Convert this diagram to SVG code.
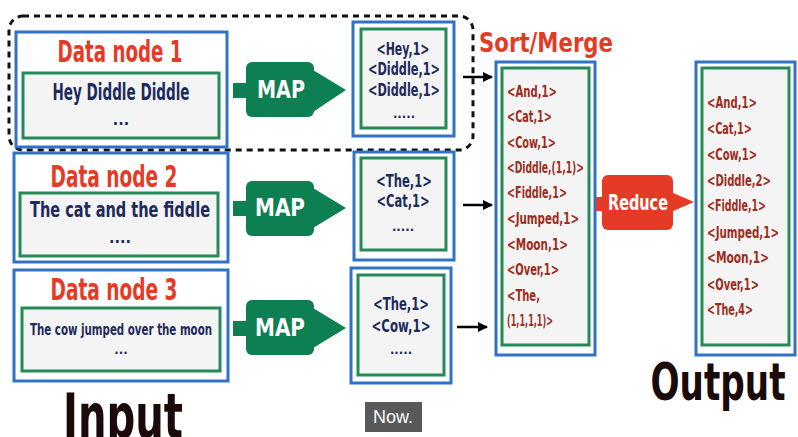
<svg xmlns="http://www.w3.org/2000/svg" width="798" height="437" viewBox="0 0 798 437">
<style>
.outer{fill:#ffffff;stroke:#2f72c6;stroke-width:3}
.inner{fill:#f4f4f4;stroke:#238a58;stroke-width:3}
.t{font-family:"DejaVu Sans Condensed","DejaVu Sans",sans-serif;font-weight:bold}
.title{fill:#e53b26;font-size:30px}
.navy{fill:#1c2a5c}
.kv{fill:#9c2c1c;font-size:16px}
.mo{font-size:18px}
.map{fill:#0e7f52}
.white{fill:#ffffff}
.big{fill:#1a0a0a}
.conn{stroke:#000;stroke-width:2.5;fill:none}
</style>
<defs>
<marker id="ah" viewBox="0 0 10 10" refX="9" refY="5" markerWidth="4" markerHeight="4" orient="auto">
<path d="M0,0 L10,5 L0,10 z" fill="#000"/>
</marker>
</defs>
<rect width="798" height="437" fill="#ffffff"/>

<g id="group1">
<rect x="9" y="16" width="464" height="134" rx="14" fill="none" stroke="#111" stroke-width="3" stroke-dasharray="6,5"/>
</g>

<g id="datanode1">
<rect class="outer" x="16" y="32" width="211" height="115"/>
<rect class="inner" x="23" y="73" width="196" height="65"/>
<text class="t title" transform="translate(120,62) scale(0.62,1)" text-anchor="middle" textLength="201.6" lengthAdjust="spacingAndGlyphs">Data node 1</text>
<text class="t navy" transform="translate(121,100) scale(0.7,1)" font-size="23" text-anchor="middle" textLength="195.7" lengthAdjust="spacingAndGlyphs">Hey Diddle Diddle</text>
<text class="t navy" x="121" y="125" font-size="16" text-anchor="middle">...</text>
</g>

<g id="datanode2">
<rect class="outer" x="14" y="153" width="214" height="109"/>
<rect class="inner" x="20" y="193" width="198" height="63"/>
<text class="t title" transform="translate(114,187) scale(0.62,1)" text-anchor="middle" textLength="204.8" lengthAdjust="spacingAndGlyphs">Data node 2</text>
<text class="t navy" transform="translate(120,217) scale(0.75,1)" font-size="21" text-anchor="middle" textLength="240" lengthAdjust="spacingAndGlyphs">The cat and the fiddle</text>
<text class="t navy" x="120" y="243" font-size="16" text-anchor="middle">....</text>
</g>

<g id="datanode3">
<rect class="outer" x="14" y="270" width="214" height="111"/>
<rect class="inner" x="22" y="308" width="198" height="63"/>
<text class="t title" transform="translate(114,300) scale(0.62,1)" text-anchor="middle" textLength="204.8" lengthAdjust="spacingAndGlyphs">Data node 3</text>
<text class="t navy" transform="translate(121,335) scale(0.7,1)" font-size="16" text-anchor="middle" textLength="260" lengthAdjust="spacingAndGlyphs">The cow jumped over the moon</text>
<text class="t navy" x="121" y="354" font-size="13" text-anchor="middle">...</text>
</g>

<g id="map1">
<rect class="map" x="233" y="83" width="16" height="15"/>
<rect class="map" x="246" y="62" width="68" height="55" rx="6"/>
<path class="map" d="M313,70 L346,90 L313,112 z"/>
<text class="t white" transform="translate(281,98) scale(0.8,1)" font-size="25" text-anchor="middle" textLength="60" lengthAdjust="spacingAndGlyphs">MAP</text>
</g>
<g id="map2">
<rect class="map" x="233" y="201" width="16" height="15"/>
<rect class="map" x="246" y="181" width="68" height="55" rx="6"/>
<path class="map" d="M313,188 L346,208 L313,228 z"/>
<text class="t white" transform="translate(280,216) scale(0.8,1)" font-size="25" text-anchor="middle" textLength="62.5" lengthAdjust="spacingAndGlyphs">MAP</text>
</g>
<g id="map3">
<rect class="map" x="233" y="321" width="16" height="15"/>
<rect class="map" x="246" y="300" width="68" height="55" rx="6"/>
<path class="map" d="M313,308 L346,328 L313,348 z"/>
<text class="t white" transform="translate(280,336) scale(0.8,1)" font-size="25" text-anchor="middle" textLength="62.5" lengthAdjust="spacingAndGlyphs">MAP</text>
</g>

<g id="mapout1">
<rect class="outer" x="353" y="22" width="101" height="114"/>
<rect class="inner" x="361" y="29" width="85" height="99"/>
<text class="t navy mo" transform="translate(403,55) scale(0.62,1)" text-anchor="middle" textLength="85.5" lengthAdjust="spacingAndGlyphs">&lt;Hey,1&gt;</text>
<text class="t navy mo" transform="translate(404,75) scale(0.62,1)" text-anchor="middle" textLength="116.1" lengthAdjust="spacingAndGlyphs">&lt;Diddle,1&gt;</text>
<text class="t navy mo" transform="translate(404,96) scale(0.62,1)" text-anchor="middle" textLength="116.1" lengthAdjust="spacingAndGlyphs">&lt;Diddle,1&gt;</text>
<text class="t navy" x="404" y="118" font-size="13" text-anchor="middle">.....</text>
</g>
<g id="mapout2">
<rect class="outer" x="354" y="152" width="100" height="108"/>
<rect class="inner" x="361" y="158" width="85" height="92"/>
<text class="t navy mo" transform="translate(404,187) scale(0.62,1)" text-anchor="middle" textLength="90.3" lengthAdjust="spacingAndGlyphs">&lt;The,1&gt;</text>
<text class="t navy mo" transform="translate(403,207) scale(0.62,1)" text-anchor="middle" textLength="85.5" lengthAdjust="spacingAndGlyphs">&lt;Cat,1&gt;</text>
<text class="t navy" x="403" y="231" font-size="13" text-anchor="middle">.....</text>
</g>
<g id="mapout3">
<rect class="outer" x="351" y="268" width="100" height="115"/>
<rect class="inner" x="358" y="275" width="86" height="100"/>
<text class="t navy mo" transform="translate(401,310) scale(0.62,1)" text-anchor="middle" textLength="90.3" lengthAdjust="spacingAndGlyphs">&lt;The,1&gt;</text>
<text class="t navy mo" transform="translate(401,332) scale(0.62,1)" text-anchor="middle" textLength="95.2" lengthAdjust="spacingAndGlyphs">&lt;Cow,1&gt;</text>
<text class="t navy" x="401" y="354" font-size="13" text-anchor="middle">.....</text>
</g>

<g id="connectors">
<line class="conn" x1="463" y1="77" x2="492" y2="77" marker-end="url(#ah)"/>
<line class="conn" x1="463" y1="205" x2="492" y2="205" marker-end="url(#ah)"/>
<line class="conn" x1="457" y1="327" x2="487" y2="327" marker-end="url(#ah)"/>
</g>

<g id="sortmerge">
<text class="t" transform="translate(546,52) scale(0.84,1)" font-size="27" fill="#e53b26" text-anchor="middle" textLength="159.5" lengthAdjust="spacingAndGlyphs">Sort/Merge</text>
<rect class="outer" x="496" y="62" width="99" height="293"/>
<rect class="inner" x="502" y="68" width="87" height="277"/>
<g transform="translate(507,0) scale(0.7,1)">
<text class="t kv" x="0" y="97" textLength="71.4" lengthAdjust="spacingAndGlyphs">&lt;And,1&gt;</text>
<text class="t kv" x="0" y="122" textLength="64.3" lengthAdjust="spacingAndGlyphs">&lt;Cat,1&gt;</text>
<text class="t kv" x="0" y="148" textLength="70" lengthAdjust="spacingAndGlyphs">&lt;Cow,1&gt;</text>
<text class="t kv" x="0" y="173" textLength="110" lengthAdjust="spacingAndGlyphs">&lt;Diddle,(1,1)&gt;</text>
<text class="t kv" x="0" y="198" textLength="85.7" lengthAdjust="spacingAndGlyphs">&lt;Fiddle,1&gt;</text>
<text class="t kv" x="0" y="224" textLength="102.9" lengthAdjust="spacingAndGlyphs">&lt;Jumped,1&gt;</text>
<text class="t kv" x="0" y="250" textLength="87.1" lengthAdjust="spacingAndGlyphs">&lt;Moon,1&gt;</text>
<text class="t kv" x="0" y="275" textLength="74.3" lengthAdjust="spacingAndGlyphs">&lt;Over,1&gt;</text>
<text class="t kv" x="0" y="301" textLength="47.1" lengthAdjust="spacingAndGlyphs">&lt;The,</text>
<text class="t kv" x="0" y="326" textLength="65.7" lengthAdjust="spacingAndGlyphs">(1,1,1,1)&gt;</text>
</g>
</g>

<g id="reduce">
<rect x="596" y="197" width="8" height="14" fill="#e53b26"/>
<rect x="602" y="175" width="71" height="55" rx="6" fill="#e53b26"/>
<path d="M671,192 L694,202 L671,212 z" fill="#e53b26"/>
<text class="t white" transform="translate(638,210) scale(0.7,1)" font-size="21" text-anchor="middle" textLength="85.7" lengthAdjust="spacingAndGlyphs">Reduce</text>
</g>

<g id="output">
<rect class="outer" x="696" y="62" width="99" height="293"/>
<rect class="inner" x="702" y="68" width="87" height="277"/>
<g transform="translate(707,0) scale(0.7,1)">
<text class="t kv" x="0" y="108" textLength="71.4" lengthAdjust="spacingAndGlyphs">&lt;And,1&gt;</text>
<text class="t kv" x="0" y="134" textLength="64.3" lengthAdjust="spacingAndGlyphs">&lt;Cat,1&gt;</text>
<text class="t kv" x="0" y="160" textLength="71.4" lengthAdjust="spacingAndGlyphs">&lt;Cow,1&gt;</text>
<text class="t kv" x="0" y="186" textLength="91.4" lengthAdjust="spacingAndGlyphs">&lt;Diddle,2&gt;</text>
<text class="t kv" x="0" y="211" textLength="84.3" lengthAdjust="spacingAndGlyphs">&lt;Fiddle,1&gt;</text>
<text class="t kv" x="0" y="238" textLength="102.9" lengthAdjust="spacingAndGlyphs">&lt;Jumped,1&gt;</text>
<text class="t kv" x="0" y="263" textLength="88.6" lengthAdjust="spacingAndGlyphs">&lt;Moon,1&gt;</text>
<text class="t kv" x="0" y="290" textLength="74.3" lengthAdjust="spacingAndGlyphs">&lt;Over,1&gt;</text>
<text class="t kv" x="0" y="315" textLength="65.7" lengthAdjust="spacingAndGlyphs">&lt;The,4&gt;</text>
</g>
</g>

<text class="t big" transform="translate(718,400) scale(0.66,1)" font-size="52" text-anchor="middle" textLength="204.5" lengthAdjust="spacingAndGlyphs">Output</text>
<text class="t big" transform="translate(123,438) scale(0.65,1)" font-size="62" text-anchor="middle" textLength="184.6" lengthAdjust="spacingAndGlyphs">Input</text>

<g id="caption">
<rect x="365" y="402" width="57" height="30" fill="#595959"/>
<text x="393" y="423" font-family="Liberation Sans, Arial, sans-serif" font-size="18" fill="#ffffff" text-anchor="middle">Now.</text>
</g>
</svg>
